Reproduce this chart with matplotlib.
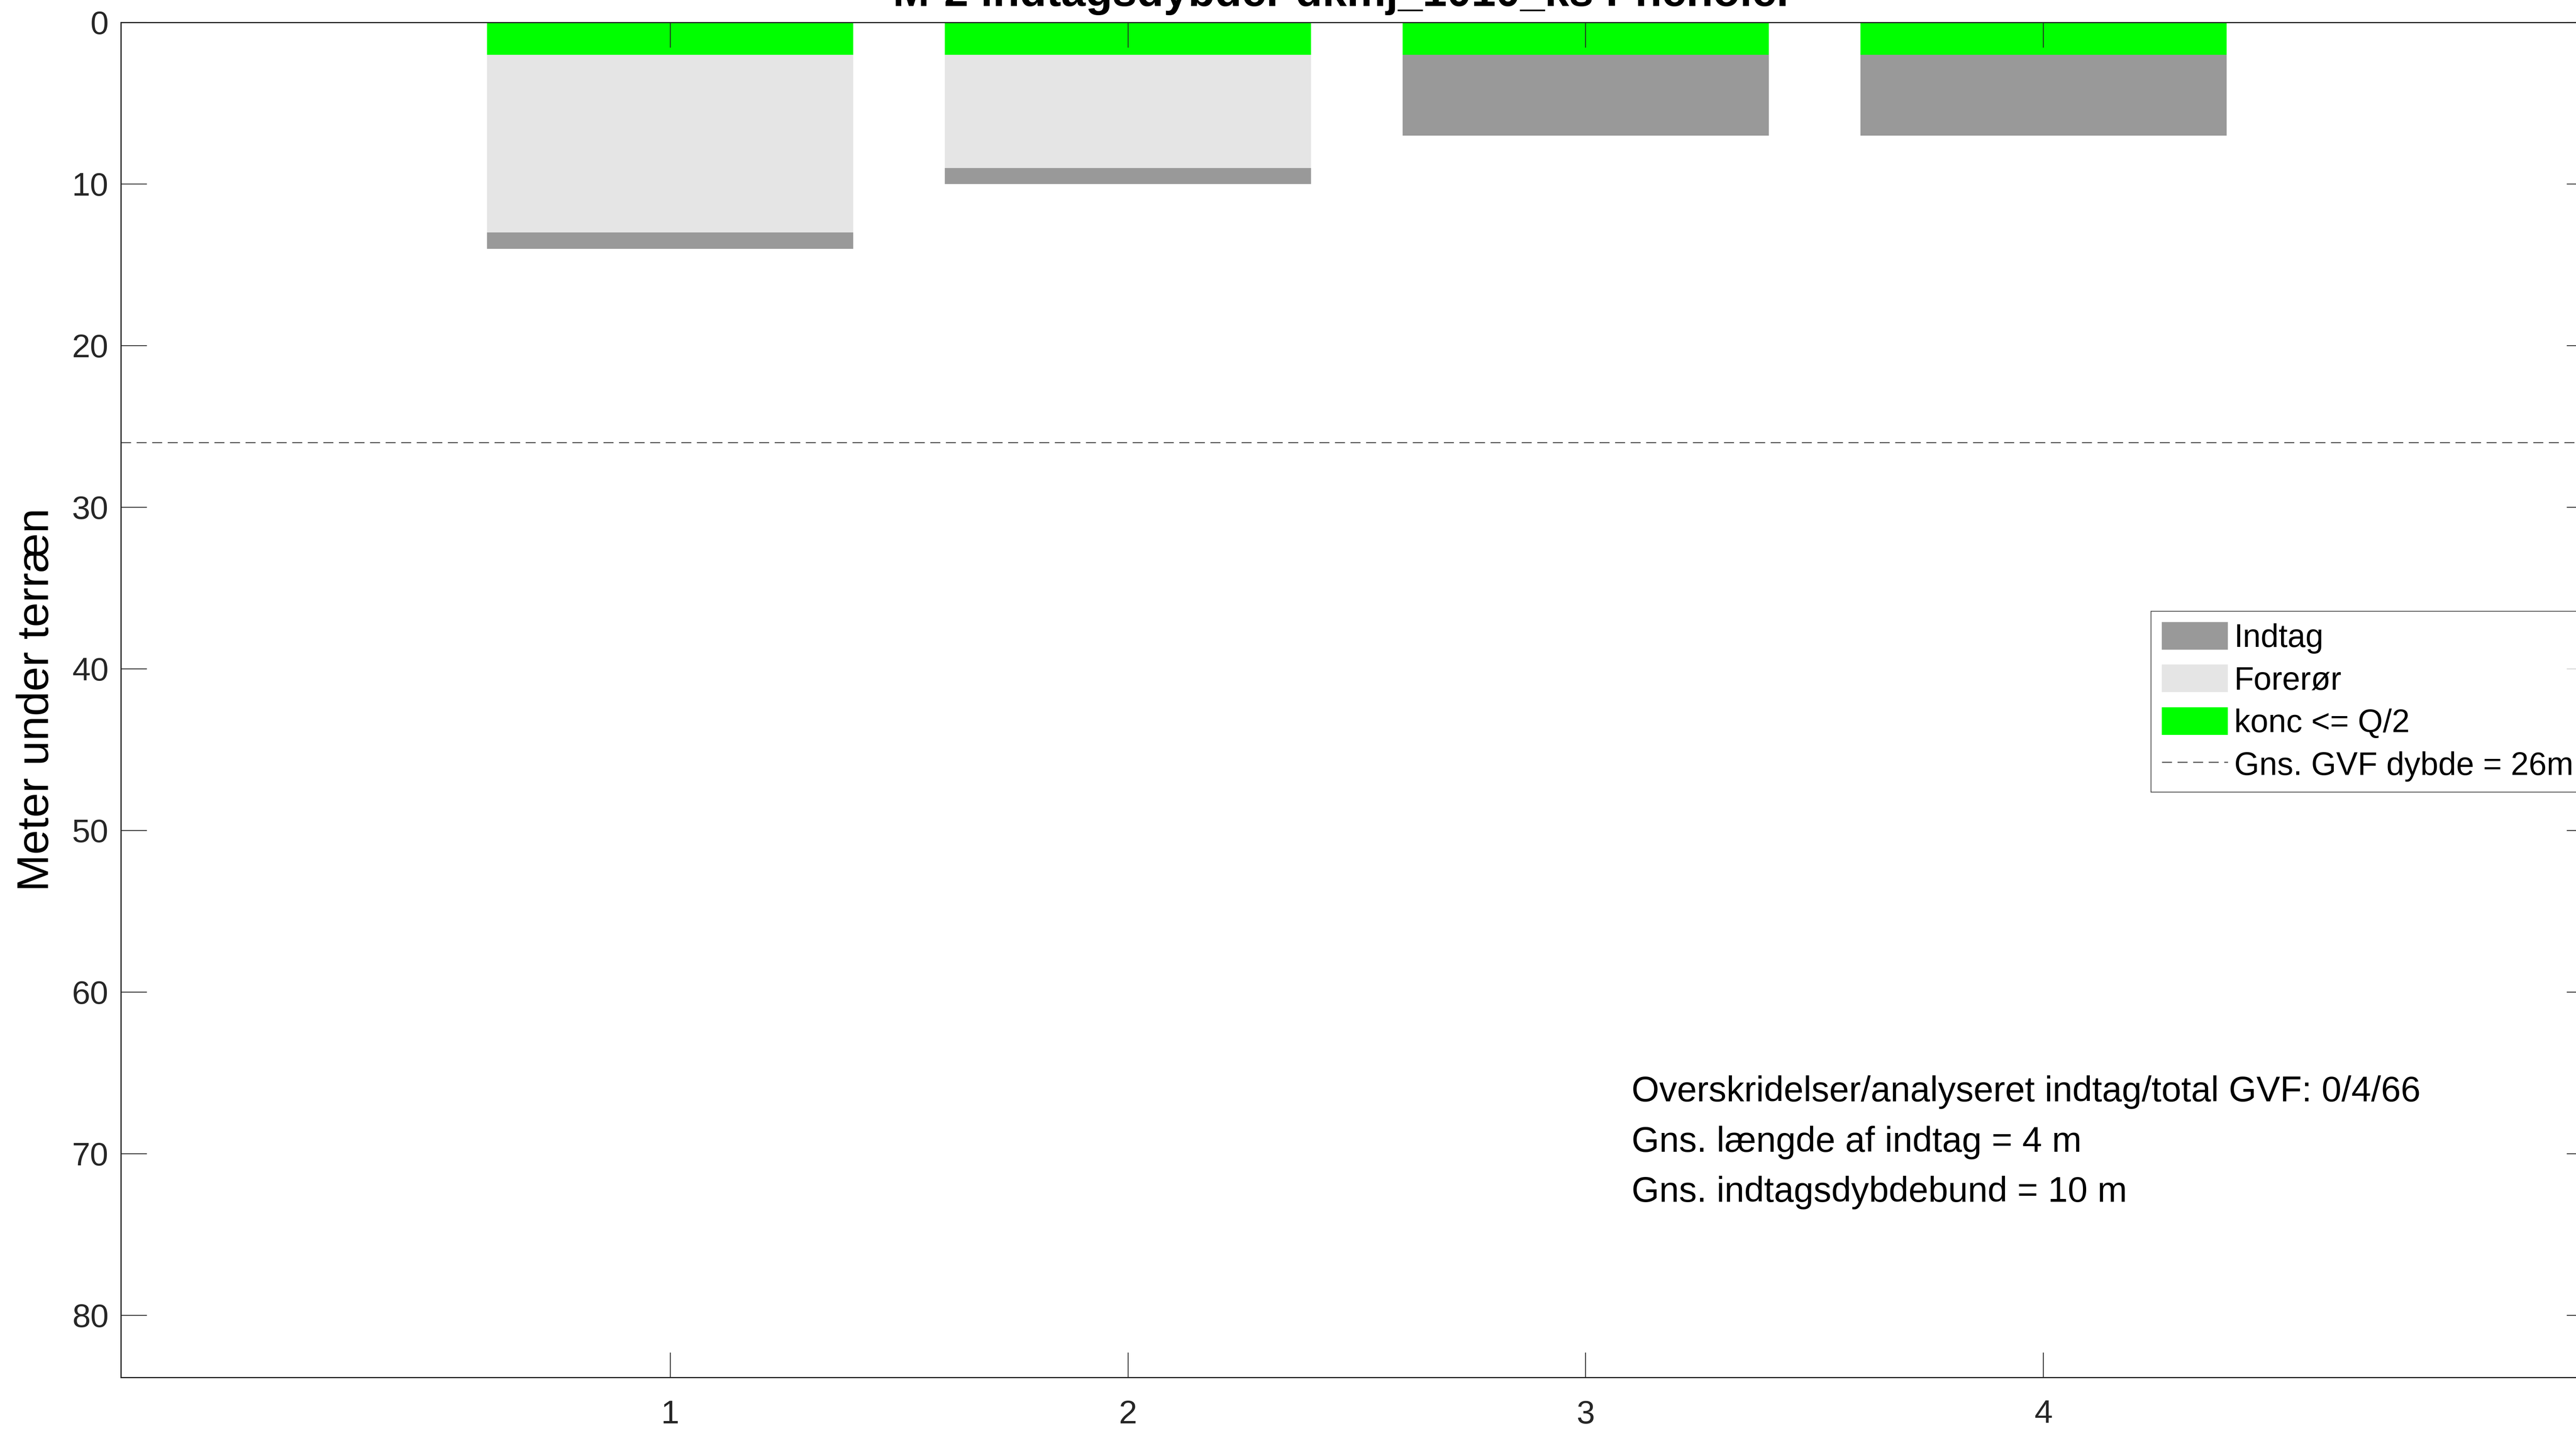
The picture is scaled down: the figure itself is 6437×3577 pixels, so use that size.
import numpy as np
import matplotlib
matplotlib.use("Agg")
import matplotlib.pyplot as plt
from matplotlib.patches import Patch
from matplotlib.lines import Line2D

plt.rcParams["font.family"] = ["Liberation Sans", "DejaVu Sans"]

# ── Data ──────────────────────────────────────────────────────
indtag_nr    = [1, 2, 3, 4]
forerør_bund = [13, 9, 0, 0]      # casing depth (m)
indtag_top   = [13, 9, 0, 0]      # top of screen (m)
indtag_bund  = [14, 10, 7, 7]     # bottom of screen (m)
konc_dybde   = [2, 2, 2, 2]       # marker band for konc <= Q/2
gvf_dybde    = 26                 # mean GVF depth (m)
y_ticks      = [0, 10, 20, 30, 40, 50, 60, 70, 80]

info_lines = [
    "Overskridelser/analyseret indtag/total GVF: 0/4/66",
    "Gns. længde af indtag = 4 m",
    "Gns. indtagsdybdebund = 10 m",
]
info_y = [66.2, 69.3, 72.4]

W, H = 6437, 3577
fig = plt.figure(figsize=(W / 100, H / 100), dpi=100)
ax = fig.add_axes([302 / W, (H - 3443) / H, (6479 - 302) / W, (3443 - 56) / H])

# ── Bars ──────────────────────────────────────────────────────
bw = 0.8
ax.bar(indtag_nr, forerør_bund, width=bw, color="#e5e5e5", linewidth=0)
ax.bar(indtag_nr, np.subtract(indtag_bund, indtag_top), bottom=indtag_top,
       width=bw, color="#999999", linewidth=0)
ax.bar(indtag_nr, konc_dybde, width=bw, color="#00ff00", linewidth=0)
ax.axhline(gvf_dybde, color="#555555", linewidth=2, dashes=(9, 5))

# ── Axes ──────────────────────────────────────────────────────
ax.set_xlim(-0.2, 5.2)
ax.set_ylim(83.84, 0)
ax.set_xticks(indtag_nr)
ax.set_yticks(y_ticks)
ax.tick_params(axis="both", direction="in", top=True, right=True,
               width=1.5, colors="#262626", labelsize=59)
ax.tick_params(axis="x", length=45, pad=40)
ax.tick_params(axis="y", length=47, pad=22)
for s in ax.spines.values():
    s.set_linewidth(2.2)
    s.set_color("#262626")

ax.set_ylabel("Meter under terræn", fontsize=80)
ax.yaxis.set_label_coords(-0.0255, 0.5)

fig.text(0.5215, 1 - 15 / H, "M-2 indtagsdybder dkmj_1010_ks Phenoler",
         ha="center", va="baseline", fontsize=79, fontweight="bold")

for txt, yy in zip(info_lines, info_y):
    ax.text(3.1, yy, txt, fontsize=64, va="center", ha="left")

# ── Legend ────────────────────────────────────────────────────
handles = [
    Patch(facecolor="#999999", edgecolor="none"),
    Patch(facecolor="#e5e5e5", edgecolor="none"),
    Patch(facecolor="#00ff00", edgecolor="none"),
    Line2D([], [], color="#555555", linewidth=2, dashes=(9, 5)),
]
labels = ["Indtag", "Forerør", "konc <= Q/2",
          "Gns. GVF dybde = %dm" % gvf_dybde]
leg = fig.legend(handles, labels, loc="upper left",
                 bbox_to_anchor=(5375 / W, 1 - 1528 / H),
                 fontsize=58, frameon=True, fancybox=False,
                 handlelength=2.05, handleheight=0.94, handletextpad=0.2,
                 labelspacing=0.34, borderpad=0.33, borderaxespad=0)
leg.get_frame().set_edgecolor("#262626")
leg.get_frame().set_linewidth(1.5)

fig.savefig("out.png", dpi=100)
